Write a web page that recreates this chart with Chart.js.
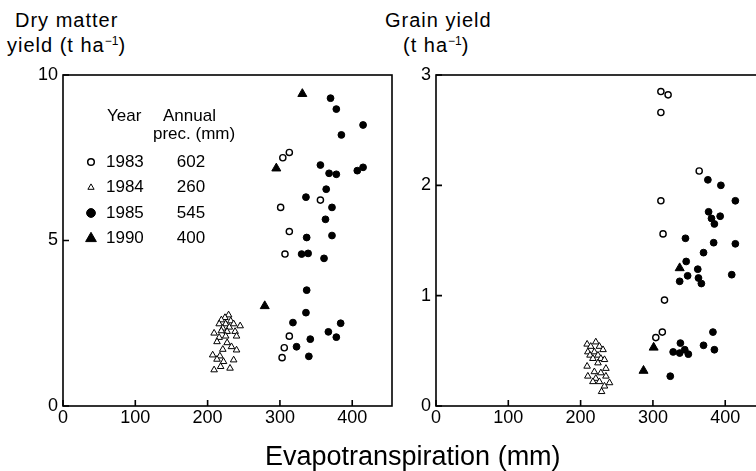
<!DOCTYPE html>
<html>
<head>
<meta charset="utf-8">
<script src="https://cdn.jsdelivr.net/npm/chart.js@4.4.1/dist/chart.umd.min.js"></script>
<style>
  html, body { margin: 0; padding: 0; background: #fff; }
  body { width: 756px; height: 471px; position: relative; overflow: hidden;
         font-family: "Liberation Sans", sans-serif; color: #000; }
  canvas { position: absolute; top: 0; }
  #dm { left: 0; }
  #gy { left: 400px; }
  .ttl { position: absolute; font-size: 20px; line-height: 20px; letter-spacing: 1px; white-space: nowrap; }
  .ttl sup { font-size: 12px; letter-spacing: 0; vertical-align: 7px; line-height: 0; }
  #xtitle { position: absolute; left: 265px; top: 443px; font-size: 27px; line-height: 27px; white-space: nowrap; }
</style>
</head>
<body>
<div class="ttl" style="left:15px; top:10px;">Dry matter</div>
<div class="ttl" style="left:7px; top:35px;">yield (t ha<sup>−1</sup>)</div>
<div class="ttl" style="left:385px; top:10px;">Grain yield</div>
<div class="ttl" style="left:403px; top:35px;">(t ha<sup>−1</sup>)</div>
<canvas id="dm" width="400" height="471"></canvas>
<canvas id="gy" width="370" height="471"></canvas>
<div id="xtitle">Evapotranspiration (mm)</div>
<script>
// seasons and annual precipitation (mm)
const years = ['1983', '1984', '1985', '1990'];
const precip = [602, 260, 545, 400];

// tick values
const etTicks = [0, 100, 200, 300, 400];
const dmTicks = [0, 5, 10];
const gyTicks = [0, 1, 2, 3];

// evapotranspiration (mm) vs dry matter yield (t/ha)
const dm1983 = [[313, 7.66], [304, 7.50], [356, 6.22], [301, 6.00], [313, 5.27], [307, 4.59],
  [313, 2.11], [306, 1.76], [303, 1.46]];
const dm1984 = [[229, 2.75], [224, 2.67], [219, 2.60], [232, 2.57], [216, 2.48], [225, 2.48],
  [236, 2.48], [245, 2.42], [221, 2.35], [230, 2.38], [209, 2.20], [219, 2.27], [227, 2.25],
  [238, 2.25], [240, 2.11], [216, 2.07], [225, 2.11], [213, 1.94], [227, 1.91], [233, 1.79],
  [221, 1.71], [240, 1.69], [207, 1.54], [217, 1.51], [213, 1.41], [222, 1.34], [236, 1.39],
  [218, 1.19], [231, 1.14], [209, 1.09]];
const dm1985 = [[370, 9.30], [378, 8.97], [415, 8.49], [385, 8.19], [356, 7.28], [368, 7.03],
  [378, 7.00], [407, 7.11], [415, 7.21], [364, 6.55], [336, 6.31], [372, 6.00], [363, 5.64],
  [337, 5.09], [372, 5.15], [330, 4.59], [339, 4.61], [361, 4.46], [337, 3.50], [336, 2.82],
  [318, 2.52], [384, 2.50], [367, 2.24], [378, 2.08], [342, 2.02], [323, 1.79], [340, 1.50]];
const dm1990 = [[331, 9.43], [295, 7.18], [279, 3.02]];

// evapotranspiration (mm) vs grain yield (t/ha)
const gy1983 = [[311, 2.85], [321, 2.82], [311, 2.66], [364, 2.13], [311, 1.86], [314, 1.56],
  [316, 0.96], [313, 0.67], [304, 0.62]];
const gy1984 = [[209, 0.56], [221, 0.58], [214, 0.54], [226, 0.54], [231, 0.51], [210, 0.49],
  [219, 0.49], [213, 0.46], [224, 0.46], [217, 0.43], [228, 0.43], [233, 0.42], [224, 0.39],
  [209, 0.36], [235, 0.34], [219, 0.31], [228, 0.30], [210, 0.27], [221, 0.25], [235, 0.27],
  [240, 0.21], [217, 0.22], [226, 0.22], [233, 0.18], [229, 0.13]];
const gy1985 = [[376, 2.05], [394, 2.00], [414, 1.86], [377, 1.76], [393, 1.72], [381, 1.70],
  [385, 1.65], [345, 1.52], [384, 1.48], [414, 1.47], [370, 1.39], [346, 1.31], [362, 1.24],
  [409, 1.19], [348, 1.18], [337, 1.13], [363, 1.16], [367, 1.11], [383, 0.67], [370, 0.55],
  [385, 0.51], [338, 0.57], [328, 0.49], [337, 0.48], [349, 0.47], [344, 0.51], [324, 0.27]];
const gy1990 = [[337, 1.25], [301, 0.53], [287, 0.32]];

const tickFont = { family: 'Liberation Sans', size: 18 };

// marker look for each season
const marks = [
  { pointStyle: 'circle', pointRadius: 3.1, pointBorderWidth: 1.4, pointBackgroundColor: '#fff' },
  { pointStyle: 'triangle', pointRadius: 3.8, pointBorderWidth: 1, pointBackgroundColor: '#fff' },
  { pointStyle: 'circle', pointRadius: 3.4, pointBorderWidth: 1, pointBackgroundColor: '#000' },
  { pointStyle: 'triangle', pointRadius: 5.2, pointBorderWidth: 1, pointBackgroundColor: '#000' }
];

function toPoints(pairs) {
  return pairs.map(p => ({ x: p[0], y: p[1] }));
}

function makeSets(series) {
  return series.map((pairs, i) => Object.assign({
    label: years[i],
    data: toPoints(pairs),
    pointBorderColor: '#000',
    showLine: false
  }, marks[i]));
}

// axis box with short inward ticks
const frame = {
  id: 'frame',
  beforeDatasetsDraw(chart) {
    const { ctx, chartArea: a, scales: { x, y } } = chart;
    ctx.save();
    ctx.strokeStyle = '#000';
    ctx.lineWidth = 1.6;
    ctx.strokeRect(a.left, a.top, a.right - a.left, a.bottom - a.top);
    ctx.beginPath();
    x.ticks.forEach(t => {
      const px = x.getPixelForValue(t.value);
      ctx.moveTo(px, a.bottom);
      ctx.lineTo(px, a.bottom - 6);
    });
    y.ticks.forEach(t => {
      const py = y.getPixelForValue(t.value);
      ctx.moveTo(a.left, py);
      ctx.lineTo(a.left + 6, py);
    });
    ctx.stroke();
    ctx.restore();
  }
};

function drawMark(ctx, style, r, cx, cy, filled, lw) {
  ctx.beginPath();
  if (style === 'circle') {
    ctx.arc(cx, cy, r, 0, Math.PI * 2);
  } else {
    ctx.moveTo(cx, cy - r);
    ctx.lineTo(cx + r * 0.866, cy + r / 2);
    ctx.lineTo(cx - r * 0.866, cy + r / 2);
    ctx.closePath();
  }
  ctx.fillStyle = filled ? '#000' : '#fff';
  ctx.fill();
  ctx.lineWidth = lw;
  ctx.stroke();
}

// year / precipitation key inside the dry matter panel
const keyRadius = [3.3, 3.6, 4.4, 6.2];
const yearKey = {
  id: 'yearKey',
  afterDraw(chart) {
    const ctx = chart.ctx;
    ctx.save();
    ctx.font = '17px "Liberation Sans"';
    ctx.textBaseline = 'middle';
    ctx.fillStyle = '#000';
    ctx.strokeStyle = '#000';
    ctx.fillText('Year', 107, 116);
    ctx.fillText('Annual', 163, 116);
    ctx.fillText('prec. (mm)', 153, 134);
    years.forEach((yr, i) => {
      const rowY = 162 + i * 25.5;
      drawMark(ctx, marks[i].pointStyle, keyRadius[i], 91, rowY,
        marks[i].pointBackgroundColor === '#000', i === 0 ? 1.5 : 1);
      ctx.fillStyle = '#000';
      ctx.textAlign = 'left';
      ctx.fillText(yr, 106, rowY);
      ctx.textAlign = 'center';
      ctx.fillText(String(precip[i]), 191, rowY);
    });
    ctx.restore();
  }
};

function panelOptions(yMax, yTicks, yWidth, padRight) {
  return {
    responsive: false,
    animation: false,
    layout: { padding: { top: 75, right: padRight, left: 0, bottom: 0 }, autoPadding: false },
    plugins: { legend: { display: false }, tooltip: { enabled: false } },
    scales: {
      x: {
        type: 'linear', min: 0, max: 455,
        grid: { display: false, drawTicks: false },
        border: { display: false },
        ticks: { padding: 1, color: '#000', font: tickFont, maxRotation: 0, autoSkip: false },
        afterBuildTicks: s => { s.ticks = etTicks.map(v => ({ value: v })); },
        afterFit: s => { s.height = 65; }
      },
      y: {
        min: 0, max: yMax,
        grid: { display: false, drawTicks: false },
        border: { display: false },
        ticks: { padding: 5, color: '#000', font: tickFont, autoSkip: false },
        afterBuildTicks: s => { s.ticks = yTicks.map(v => ({ value: v })); },
        afterFit: s => { s.width = yWidth; }
      }
    }
  };
}

new Chart(document.getElementById('dm'), {
  type: 'scatter',
  data: { datasets: makeSets([dm1983, dm1984, dm1985, dm1990]) },
  options: panelOptions(10, dmTicks, 63, 8),
  plugins: [frame, yearKey]
});

new Chart(document.getElementById('gy'), {
  type: 'scatter',
  data: { datasets: makeSets([gy1983, gy1984, gy1985, gy1990]) },
  options: panelOptions(3, gyTicks, 36, 5),
  plugins: [frame]
});
</script>
</body>
</html>
